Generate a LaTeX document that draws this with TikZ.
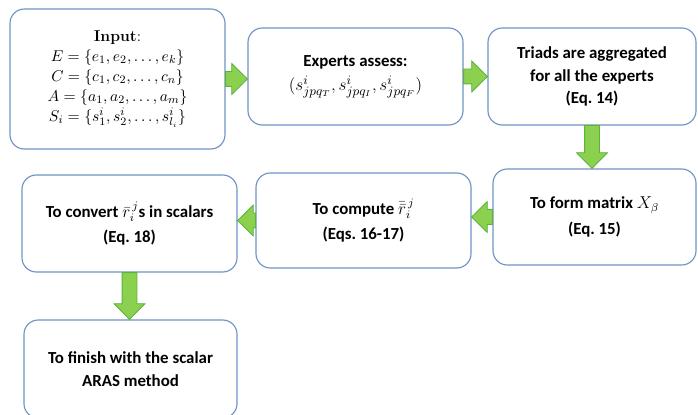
\documentclass[tikz,border=0pt]{standalone}
\usepackage{fontspec}
\newfontfamily\calfont{Carlito}
\usetikzlibrary{calc}
\definecolor{boxline}{RGB}{112,146,196}
\definecolor{arrowfill}{RGB}{140,208,80}
\definecolor{arrowline}{RGB}{90,180,58}
%% block arrow from #1 to #2
\newcommand{\flow}[2]{%
  \coordinate (hb) at ($(#2)!11pt!(#1)$);
  \draw[flowarrow] ($(#1)!5.2pt!90:(#2)$) -- ($(hb)!5.2pt!90:(#2)$) -- ($(hb)!10.8pt!90:(#2)$) -- (#2)
    -- ($(hb)!10.8pt!-90:(#2)$) -- ($(hb)!5.2pt!-90:(#2)$) -- ($(#1)!5.2pt!-90:(#2)$) -- cycle;}
\begin{document}
\begin{tikzpicture}[x=0.7pt, y=-0.7pt,
    stepbox/.style={draw=boxline, line width=0.8pt, rounded corners=10pt, fill=white, align=center,
        inner sep=2pt, font=\calfont\bfseries\fontsize{11.8}{16}\selectfont},
    flowarrow/.style={draw=arrowline, fill=arrowfill, line width=0.6pt, line join=miter}]
    \useasboundingbox (0,0) rectangle (698,415);
    %% top row
    \node[stepbox, font=\fontsize{11}{14}\selectfont, minimum width=150.5pt, minimum height=98pt] (in) at (117.5,79)
        {\textbf{Input}:\\ $E=\{e_1,e_2,\dots,e_k\}$\\ $C=\{c_1,c_2,\dots,c_n\}$\\
         $A=\{a_1,a_2,\dots,a_m\}$\\ $S_i=\{s^i_1,s^i_2,\dots,s^i_{l_i}\}$};
    \node[stepbox, minimum width=150.5pt, minimum height=67.9pt] (exp) at (355.5,76.5)
        {Experts assess:\\[1pt] \fontsize{13}{16}\selectfont$\bigl(s^i_{jpq_T}, s^i_{jpq_I}, s^i_{jpq_F}\bigr)$};
    \node[stepbox, minimum width=145.6pt, minimum height=67.9pt] (tri) at (592,76.5)
        {Triads are aggregated\\ for all the experts\\ (Eq.~14)};
    %% second row, right to left
    \node[stepbox, minimum width=142.1pt, minimum height=67.2pt] (mat) at (594.5,217)
        {To form matrix $X_\beta$\\[2pt] (Eq.~15)};
    \node[stepbox, minimum width=150.5pt, minimum height=66.5pt] (comp) at (363.5,220.5)
        {To compute $\bar{\bar{r}}_i^{\,j}$\\[2pt] (Eqs.~16-17)};
    \node[stepbox, minimum width=150.5pt, minimum height=67.9pt] (conv) at (129.5,223.5)
        {To convert $\bar{r}_i^{\,j}$s in scalars\\[2pt] (Eq.~18)};
    %% last box runs past the bottom edge
    \node[stepbox, minimum width=149.1pt, minimum height=68.6pt] (fin) at (130.5,369)
        {To finish with the scalar\\ ARAS method};
    %% arrows
    \coordinate (a1) at (in.east -| exp.west);
    \coordinate (a3) at (tri.south |- mat.north);
    \coordinate (a4) at (mat.west -| comp.east);
    \coordinate (a5) at (comp.west -| conv.east);
    \coordinate (a6) at (conv.south |- fin.north);
    \flow{in.east}{a1}
    \flow{exp.east}{tri.west}
    \flow{tri.south}{a3}
    \flow{mat.west}{a4}
    \flow{comp.west}{a5}
    \flow{conv.south}{a6}
\end{tikzpicture}
\end{document}
